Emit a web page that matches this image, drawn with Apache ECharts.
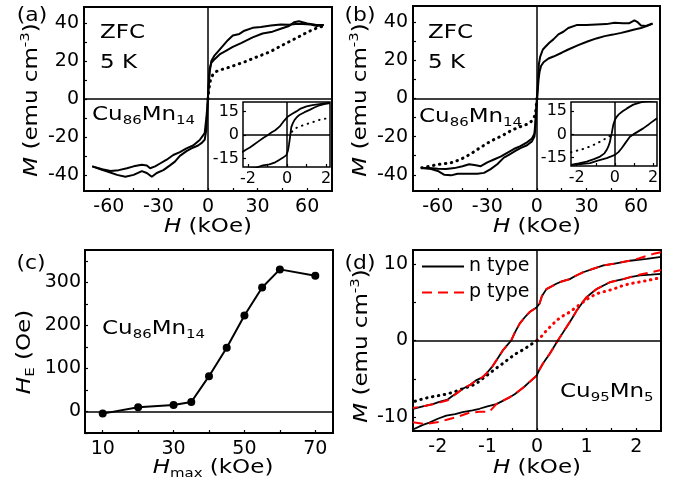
<!DOCTYPE html>
<html><head><meta charset="utf-8">
<script src="https://cdn.jsdelivr.net/npm/echarts@6/dist/echarts.min.js"></script>
<style>html,body{margin:0;padding:0;background:#fff}#c{width:678px;height:489px}</style>
</head><body><div id="c"></div>
<script>
// ---------- DATA ----------
// (a) Cu86Mn14, ZFC 5 K, main loop (H kOe, M emu/cm3)
const aDesc = [[70,39],[66,38.5],[62,39.3],[57,39.6],[53,39.5],[49,39.2],[44,39.3],[38,38.8],[32,38],[27,37.5],[22,36],[19,34.3],[15,33.5],[12,31],[9,28],[6,25],[4,23],[2,20],[1,14],[0.3,5],[-0.3,-3],[-1,-10],[-2,-18],[-5,-21.6],[-9,-24.5],[-13,-26],[-17,-28],[-21,-29.5],[-25,-32],[-29,-34],[-32,-35.5],[-35,-36.5],[-37,-35],[-40,-34.7],[-45,-35.5],[-49,-36.5],[-54,-37.5],[-59,-38],[-64,-37],[-70,-35.5]];
const aAsc = [[-70,-35.5],[-65,-37],[-60,-38.5],[-55,-40],[-50,-41],[-45,-40],[-40,-38],[-37,-39],[-34,-41],[-31,-39],[-27,-37.5],[-23,-35],[-20,-33],[-17,-30],[-13,-27.5],[-10,-26],[-6,-24.5],[-4,-23.3],[-2,-21.5],[-1,-16],[-0.5,-8],[0,2],[0.5,10],[1,16],[2,19],[4,21],[7,23.5],[10,25],[15,27.5],[20,29.5],[27,32.5],[33,34.5],[39,35.5],[44,37],[49,38.5],[52,40.5],[55,41],[60,39.8],[65,39.2],[70,39]];
const aVirgin = [[0,0],[0.5,5],[1.5,10],[3,13],[5,14.5],[8,15.5],[12,16.5],[17,18],[22,19.5],[27,21.3],[32,23],[37,24.7],[42,27],[47,29.3],[52,31.5],[57,33.8],[62,36],[66,37.5],[70,38.5]];
// (a) inset, low-field detail
const aInDesc = [[2.2,20.5],[2.0,20.3],[1.67,19.7],[1.3,19],[1,18.2],[0.7,16.8],[0.48,15],[0.25,13.3],[0.05,11.8],[-0.15,9],[-0.37,5.4],[-0.6,3],[-0.8,1.5],[-0.97,0],[-1.2,-1.8],[-1.48,-4.3],[-1.7,-6.3],[-1.9,-8.1],[-2.1,-9.5],[-2.3,-11]];
const aInAsc = [[-2.3,-22],[-1.6,-21],[-1.23,-19.5],[-0.9,-18.8],[-0.6,-17.5],[-0.4,-16],[-0.2,-14.5],[-0.03,-12.9],[0.05,-10],[0.1,-6.4],[0.15,-2],[0.18,1],[0.22,5],[0.3,7.5],[0.39,9.6],[0.5,11.3],[0.65,12.9],[0.9,14.5],[1.16,16],[1.4,17.5],[1.67,18.9],[1.9,19.6],[2.2,20.3]];
const aInVirgin = [[0.25,2],[0.3,3.2],[0.45,4.3],[0.65,5.4],[0.9,6.5],[1.16,7.5],[1.4,8.5],[1.67,9.6],[1.9,10.2],[2.2,11]];
// (b) Cu86Mn14, ZFC 5 K, negative virgin
const bDesc = [[70,39.3],[66,38],[63,38.3],[61,40],[59,41],[56,39.5],[52,39.5],[47,39.7],[42,39],[36,38.8],[30,38.5],[24,38.5],[19,37],[16,35],[13,33.6],[10,31],[7.5,29.2],[5,27],[3.6,25.7],[2,22],[1.2,18],[0.6,8],[0,0],[-0.5,-6],[-1,-13],[-1.5,-18.5],[-3,-21],[-6,-23],[-10,-25],[-14,-26.5],[-18,-28.5],[-22,-30.5],[-26,-32],[-30,-33.5],[-34,-35.5],[-37,-35],[-41,-34.5],[-45,-35.5],[-50,-36.5],[-55,-37],[-60,-36.8],[-65,-36.5],[-70,-36.5]];
const bAsc = [[-70,-36.5],[-64,-37],[-60,-38],[-56,-40],[-52,-40.3],[-48,-39.5],[-44,-39.5],[-40,-39.5],[-36,-39.5],[-32,-39],[-28,-37],[-24,-34.5],[-20,-31],[-17,-29.5],[-13,-27.5],[-10,-26],[-6,-24.5],[-3,-22.5],[-1.5,-20],[-0.8,-14],[-0.2,-4],[0.4,3],[1,10],[1.6,14],[2.5,17],[4,19],[7,21],[10,22],[15,24],[19,25.7],[25,28],[31,30],[36,31.5],[41,32.7],[46,33.5],[51,34.4],[55,35.3],[59,36.2],[63,37],[66,37.8],[70,39.3]];
const bVirgin = [[0,0],[-0.5,-5],[-1,-8.5],[-2.4,-11],[-4,-12.5],[-6.3,-13.6],[-9,-14.5],[-12,-15.4],[-16,-17],[-20,-19],[-24,-20.7],[-28,-22.4],[-32,-24.5],[-36,-26.7],[-40,-29],[-44,-31],[-48,-32.5],[-52,-33.7],[-56,-34.2],[-60,-34.6],[-65,-35.5],[-70,-36.4]];
// (b) inset
const bInDesc = [[2.2,22],[1.6,21.5],[1.3,20.6],[0.96,19.3],[0.78,18],[0.61,16.7],[0.4,15],[0.2,13],[0.09,11.4],[0,9.5],[-0.09,6],[-0.17,0.6],[-0.22,-2],[-0.26,-4.7],[-0.35,-8],[-0.43,-10],[-0.55,-12.3],[-0.78,-14.4],[-1.1,-16],[-1.48,-17.6],[-1.9,-18.8],[-2.3,-19.7]];
const bInAsc = [[-2.3,-20],[-1.8,-19.2],[-1.3,-18.6],[-0.9,-17],[-0.43,-15.4],[-0.2,-14.3],[0,-13.3],[0.18,-11.5],[0.35,-9],[0.55,-5.5],[0.78,-1.5],[0.96,0],[1.2,1.8],[1.48,3.9],[1.8,6.8],[2.2,10.5]];
const bInVirgin = [[-2.3,-11.6],[-2,-10.6],[-1.65,-9.4],[-1.4,-8.3],[-1.13,-6.9],[-0.85,-5.2],[-0.61,-3.6],[-0.4,-2],[-0.26,-0.9]];
// (c) exchange bias vs Hmax
const cHmax = [10,20,30,35,40,45,50,55,60,70];
const cHE = [-5,10,15,22,82,148,223,288,330,315];
// (d) Cu95Mn5, n type / p type
const nDesc = [[2.5,10.9],[2.21,10.65],[1.87,10.4],[1.7,10.2],[1.54,10],[1.34,9.8],[1.13,9.35],[0.93,8.9],[0.8,8.5],[0.66,8],[0.5,7.7],[0.39,7.4],[0.19,6.7],[0.1,5.8],[0.05,4.8],[-0.01,4.3],[-0.15,3.7],[-0.25,3],[-0.35,2.2],[-0.45,1],[-0.52,0],[-0.6,-0.6],[-0.69,-1.3],[-0.8,-2.4],[-0.89,-3.3],[-1.02,-4.3],[-1.1,-4.8],[-1.23,-5.2],[-1.35,-5.8],[-1.5,-6.3],[-1.6,-6.8],[-1.7,-7.2],[-1.8,-7.7],[-1.97,-8],[-2.1,-8.3],[-2.24,-8.5],[-2.5,-8.9]];
const nAsc = [[-2.5,-11.6],[-2.3,-11],[-2.17,-10.7],[-2,-10.2],[-1.83,-9.8],[-1.65,-9.6],[-1.5,-9.35],[-1.3,-9.1],[-1.16,-8.9],[-1,-8.6],[-0.82,-8.3],[-0.7,-7.9],[-0.55,-7.4],[-0.45,-7],[-0.35,-6.5],[-0.25,-6],[-0.15,-5.4],[-0.01,-4.6],[0.05,-3.8],[0.12,-3],[0.26,-1.7],[0.42,0],[0.5,0.8],[0.59,1.7],[0.7,2.8],[0.8,3.9],[0.9,4.8],[1,5.65],[1.1,6.2],[1.2,6.7],[1.35,7.2],[1.47,7.6],[1.6,7.8],[1.74,8],[1.9,8.3],[2.08,8.5],[2.3,8.6],[2.5,8.7]];
const pDesc = [[2.5,11.5],[2.35,11.3],[2.2,11],[2.05,10.7],[1.87,10.4],[1.7,10.2],[1.54,10],[1.34,9.8],[1.13,9.35],[0.93,8.9],[0.8,8.5],[0.66,8],[0.5,7.7],[0.39,7.4],[0.19,6.7],[0.1,5.8],[0.05,4.8],[-0.01,4.3],[-0.15,3.7],[-0.25,3],[-0.35,2.2],[-0.45,1],[-0.52,0],[-0.6,-0.6],[-0.69,-1.3],[-0.8,-2.4],[-0.89,-3.3],[-1.02,-4.3],[-1.1,-4.8],[-1.23,-5.2],[-1.35,-5.8],[-1.5,-6.3],[-1.6,-6.8],[-1.7,-7.3],[-1.8,-7.8],[-1.97,-8.1],[-2.1,-8.3],[-2.24,-8.5],[-2.5,-8.8]];
const pAsc = [[-2.5,-10.65],[-2.24,-10.9],[-1.97,-10.6],[-1.8,-10.3],[-1.63,-10],[-1.36,-9.4],[-1.16,-9.3],[-0.96,-9.3],[-0.82,-8.3],[-0.7,-7.9],[-0.55,-7.4],[-0.45,-7],[-0.35,-6.5],[-0.25,-6],[-0.15,-5.4],[-0.01,-4.6],[0.05,-3.8],[0.12,-3],[0.26,-1.7],[0.42,0],[0.5,0.8],[0.59,1.7],[0.7,2.8],[0.8,3.9],[0.9,4.8],[1,5.65],[1.1,6.2],[1.2,6.7],[1.35,7.2],[1.47,7.6],[1.6,7.8],[1.74,8],[1.9,8.3],[2.08,8.6],[2.3,8.9],[2.5,9.2]];
const nVirgin = [[0,0],[-0.15,-0.65],[-0.28,-1.2],[-0.42,-1.7],[-0.55,-2.3],[-0.69,-3],[-0.82,-3.6],[-0.96,-4.3],[-1.1,-5],[-1.23,-5.65],[-1.36,-6],[-1.5,-6.3],[-1.67,-6.7],[-1.83,-7],[-2,-7.2],[-2.17,-7.4],[-2.35,-7.7],[-2.5,-8]];
const pVirgin = [[0,0],[0.1,0.6],[0.19,1.3],[0.3,2],[0.39,2.6],[0.52,3.2],[0.66,3.7],[0.8,4.4],[0.93,5],[1.06,5.6],[1.2,6.1],[1.37,6.4],[1.54,6.7],[1.7,7.1],[1.87,7.4],[2.04,7.6],[2.21,7.8],[2.35,8],[2.5,8.2]];
// tick values / labels
const abXTicks = [-60,-45,-30,-15,0,15,30,45,60], abXLabels = [-60,-30,0,30,60];
const abYTicks = [-40,-30,-20,-10,0,10,20,30,40], abYLabels = [-40,-20,0,20,40];
const inXTicks = [-2,-1,0,1,2], inXLabels = [-2,0,2];
const inYTicks = [-15,0,15], inYLabels = [-15,0,15];
const cXTicks = [10,20,30,40,50,60,70], cXLabels = [10,30,50,70];
const cYTicks = [-50,0,50,100,150,200,250,300,350], cYLabels = [0,100,200,300];
const dXTicks = [-2,-1.5,-1,-0.5,0,0.5,1,1.5,2], dXLabels = [-2,-1,0,1,2];
const dYTicks = [-10,-5,0,5,10], dYLabels = [-10,0,10];

// ---------- CHART ----------
const F = 'DejaVu Sans';
const SX = 1.15;
const chart = echarts.init(document.getElementById('c'), null, {renderer:'canvas'});

function grid(l,t,w,h,bw,bg){return {left:l,top:t,width:w,height:h,show:true,borderColor:'#000',borderWidth:bw,backgroundColor:bg||'transparent',containLabel:false};}
function axis(dim,gi,min,max,ticks,labels,fs,margin){
  return {type:'value',gridIndex:gi,min:min,max:max,splitLine:{show:false},
    axisLine:{show:false,onZero:false},
    axisTick:{show:true,inside:true,length:3,customValues:ticks,lineStyle:{color:'#000',width:1.2}},
    axisLabel:{show:true,customValues:labels,fontSize:fs,fontFamily:F,color:'#000',margin:margin}};
}
const zeroLine = (both)=>({silent:true,symbol:['none','none'],label:{show:false},animation:false,
  lineStyle:{color:'#000',width:1.5,type:'solid'},
  data: both?[{xAxis:0},{yAxis:0}]:[{yAxis:0}]});
function solid(name,data,gi,color,w,extra){
  return Object.assign({type:'line',name:name,data:data,xAxisIndex:gi,yAxisIndex:gi,showSymbol:false,symbol:'none',
    lineStyle:{color:color||'#000',width:w||2},itemStyle:{color:color||'#000'},animation:false,z:3},extra||{});
}
function dotted(name,data,gi,color,w){
  return {type:'line',name:name,data:data,xAxisIndex:gi,yAxisIndex:gi,showSymbol:false,symbol:'none',animation:false,z:3,
    lineStyle:{color:color||'#000',width:w||3,type:[0.5,5.5],cap:'round'}};
}

const rich = {
  i:{fontSize:20,fontFamily:F,fontStyle:'italic',lineHeight:20},
  n:{fontSize:20,fontFamily:F,lineHeight:20},
  s:{fontSize:13,fontFamily:F,lineHeight:14,padding:[12,0,0,0]},
  si:{fontSize:13,fontFamily:F,lineHeight:14,padding:[12,0,0,0]},
  u:{fontSize:13,fontFamily:F,lineHeight:14,padding:[0,0,12,0]}
};
function T(x,y,text,o){
  o=o||{};
  return {type:'text',x:x,y:y,rotation:o.rot||0,scaleX:o.sx||SX,z:100,
    style:{text:text,rich:rich,fontSize:o.fs||20,fontFamily:F,fill:'#000',
      align:o.align||'center',textAlign:o.align||'center',verticalAlign:'middle',textVerticalAlign:'middle'}};
}
const cu86 = '{n|Cu}{s|86}{n|Mn}{s|14}';
const Mtitle = '{i|M}{n| (emu cm}{u|-3}{n|)}';
const Htitle = '{i|H}{n| (kOe)}';

const option = {
  animation:false,
  backgroundColor:'#fff',
  grid:[
    grid(84,7,248,184,2),
    grid(243,102,87,65,1.5,'#fff'),
    grid(413,6,247,185,2),
    grid(571,102,86,64,1.5,'#fff'),
    grid(85,250,248,183,2),
    grid(413,250,248,181,2)
  ],
  xAxis:[
    axis('x',0,-75,75,abXTicks,abXLabels,19,7),
    axis('x',1,-2.25,2.2,inXTicks,inXLabels,16,4),
    axis('x',2,-75,74.5,abXTicks,abXLabels,19,7),
    axis('x',3,-2.3,2.2,inXTicks,inXLabels,16,4),
    axis('x',4,5,75,cXTicks,cXLabels,19,7),
    axis('x',5,-2.5,2.5,dXTicks,dXLabels,19,7)
  ],
  yAxis:[
    axis('y',0,-48.5,48.5,abYTicks,abYLabels,19,5),
    axis('y',1,-20.5,21,inYTicks,inYLabels,16,4),
    axis('y',2,-48.5,48.5,abYTicks,abYLabels,19,5),
    axis('y',3,-20.5,21,inYTicks,inYLabels,16,4),
    axis('y',4,-50,375,cYTicks,cYLabels,19,4),
    axis('y',5,-11.8,11.8,dYTicks,dYLabels,19,5)
  ],
  legend:{show:true,data:['n type','p type'],left:416,top:252,orient:'vertical',itemWidth:42,itemHeight:12,itemGap:7,
    itemStyle:{opacity:0},
    textStyle:{fontSize:19,fontFamily:F,color:'#000'},selectedMode:false},
  series:[
    solid('aDesc',aDesc,0,'#000',2,{markLine:zeroLine(true)}),
    solid('aAsc',aAsc,0),
    dotted('aVirgin',aVirgin,0),
    solid('aInDesc',aInDesc,1,'#000',1.8,{markLine:zeroLine(true)}),
    solid('aInAsc',aInAsc,1,'#000',1.8),
    dotted('aInVirgin',aInVirgin,1,'#000',2),
    solid('bDesc',bDesc,2,'#000',2,{markLine:zeroLine(true)}),
    solid('bAsc',bAsc,2),
    dotted('bVirgin',bVirgin,2),
    solid('bInDesc',bInDesc,3,'#000',1.8,{markLine:zeroLine(true)}),
    solid('bInAsc',bInAsc,3,'#000',1.8),
    dotted('bInVirgin',bInVirgin,3,'#000',2),
    {type:'line',name:'HE',data:cHmax.map((h,i)=>[h,cHE[i]]),xAxisIndex:4,yAxisIndex:4,symbol:'circle',symbolSize:8,
      lineStyle:{color:'#000',width:2},itemStyle:{color:'#000'},animation:false,markLine:zeroLine(false)},
    solid('n type',nDesc,5,'#000',1.8,{markLine:zeroLine(true)}),
    solid('n type',nAsc,5,'#000',1.8),
    dotted('nVirgin',nVirgin,5,'#000',3),
    dotted('pVirgin',pVirgin,5,'#ff0000',3),
    solid('p type',pDesc,5,'#ff0000',2,{lineStyle:{color:'#ff0000',width:2,type:[10,6]},z:4}),
    solid('p type',pAsc,5,'#ff0000',2,{lineStyle:{color:'#ff0000',width:2,type:[10,6]},z:4})
  ],
  graphic:[
    T(32,16,'(a)',{fs:19}), T(360,16,'(b)',{fs:19}), T(31,264,'(c)',{fs:19}), T(360,264,'(d)',{fs:19}),
    T(100,33,'ZFC',{align:'left'}), T(100,63,'5 K',{align:'left'}),
    T(428,33,'ZFC',{align:'left'}), T(428,63,'5 K',{align:'left'}),
    T(92,115,cu86,{align:'left'}), T(419,117,cu86,{align:'left'}), T(102,329,cu86,{align:'left'}),
    T(560,392,'{n|Cu}{s|95}{n|Mn}{s|5}',{align:'left'}),
    T(208,227,Htitle), T(537,227,Htitle), T(537,468,Htitle),
    T(213,468,'{i|H}{si|max}{n| (kOe)}'),
    T(32,100,Mtitle,{rot:Math.PI/2}), T(361,100,Mtitle,{rot:Math.PI/2}), T(362,346,Mtitle,{rot:Math.PI/2}),
    T(25,352,'{i|H}{si|E}{n| (Oe)}',{rot:Math.PI/2})
  ]
};
chart.setOption(option);
</script></body></html>
